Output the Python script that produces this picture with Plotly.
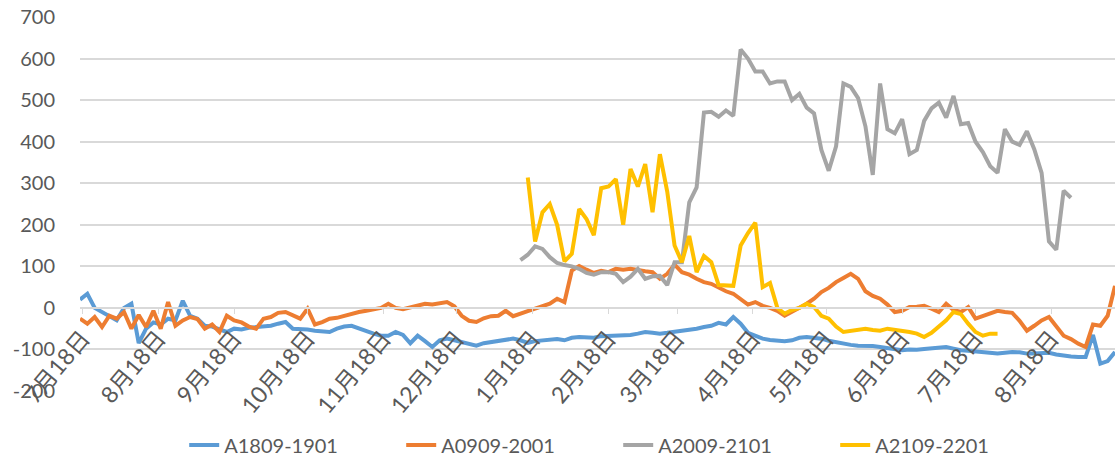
import pandas as pd
import plotly.graph_objects as go

# Trading-calendar grid (every 3 days) used by all four spread series
trade_dates = pd.date_range("2020-07-17", periods=142, freq="3D")

tick_dates = ["2020-07-18", "2020-08-18", "2020-09-18", "2020-10-18", "2020-11-18",
              "2020-12-18", "2021-01-18", "2021-02-18", "2021-03-18", "2021-04-18",
              "2021-05-18", "2021-06-18", "2021-07-18", "2021-08-18"]
tick_labels = ["7月18日", "8月18日", "9月18日", "10月18日", "11月18日", "12月18日",
               "1月18日", "2月18日", "3月18日", "4月18日", "5月18日", "6月18日",
               "7月18日", "8月18日"]

y_ticks = [-200, -100, 0, 100, 200, 300, 400, 500, 600, 700]
y_tick_labels = ["-200", "-100", "0", "100", "200", "300", "400", "500", "600", "700"]

a1809_1901 = [
    20, 34, 0, -10, -20, -30, 0, 10, -85, -50,
    -35, -40, -26, -30, 17, -19, -26, -43, -45, -52,
    -58, -50, -52, -48, -46, -45, -43, -38, -34, -50,
    -50, -52, -55, -56, -58, -50, -45, -43, -50, -55,
    -62, -67, -67, -58, -65, -85, -67, -80, -94, -78,
    -74, -78, -82, -86, -91, -85, -82, -79, -76, -74,
    -78, -84, -80, -79, -76, -75, -78, -72, -70, -71,
    -72, -68, -67, -66, -67, -65, -62, -58, -60, -62,
    -60, -58, -56, -52, -50, -46, -43, -36, -40, -22,
    -38, -60, -68, -74, -77, -79, -80, -78, -72, -70,
    -71, -74, -79, -83, -86, -89, -91, -91, -92, -94,
    -96, -98, -102, -100, -101, -99, -98, -96, -94, -98,
    -102, -103, -105, -106, -108, -110, -108, -106, -107, -110,
    -110, -108, -108, -112, -115, -117, -118, -118, -65, -134,
    -128, -106,
]

a0909_2001 = [
    -26, -38, -22, -46, -19, -26, -10, -50, -17, -46,
    -7, -50, 14, -43, -30, -22, -27, -50, -40, -58,
    -19, -30, -35, -45, -50, -26, -22, -12, -10, -19,
    -26, -2, -40, -34, -26, -24, -19, -15, -10, -7,
    -4, 0, 10, 0, -3, 2, 5, 10, 8, 12,
    14, 4, -19, -31, -34, -25, -20, -19, -7, -20,
    -15, -8, -2, 3, 10, 22, 14, 90, 101, 92,
    84, 89, 86, 94, 92, 94, 90, 88, 86, 70,
    82, 104, 86, 80, 70, 62, 58, 48, 40, 34,
    22, 8, 14, 5, 0, -7, -19, -10, 0, 10,
    22, 38, 48, 62, 72, 82, 70, 40, 29, 22,
    8, -10, -7, 2, 3, 5, -2, -10, 10, -5,
    -10, 2, -26, -19, -12, -7, -10, -12, -31, -55,
    -43, -30, -22, -45, -67, -75, -86, -94, -40, -43,
    -19, 53,
]

a2009_2101 = [None] * 60 + [
    115, 128, 148, 142, 122, 108, 103, 100, 94, 84,
    80, 86, 86, 82, 62, 75, 94, 70, 76, 77,
    55, 110, 110, 254, 290, 470, 472, 460, 475, 462,
    622, 600, 569, 569, 540, 545, 545, 500, 515, 482,
    468, 380, 330, 389, 540, 532, 505, 437, 320, 540,
    430, 420, 454, 370, 380, 450, 480, 494, 458, 510,
    442, 445, 400, 375, 341, 325, 430, 400, 392, 425,
    382, 325, 160, 140, 282, 265,
] + [None] * 6

a2109_2201 = [None] * 61 + [
    314, 160, 230, 250, 200, 112, 130, 238, 214, 175,
    288, 292, 310, 200, 334, 292, 346, 230, 370, 280,
    150, 110, 173, 86, 125, 110, 55, 53, 53, 150,
    180, 205, 50, 60, 0, -14, -5, 0, 10, 2,
    -19, -26, -45, -58, -55, -52, -50, -53, -55, -50,
    -52, -55, -58, -62, -70, -60, -45, -30, -10, -15,
    -38, -58, -67, -62, -62,
] + [None] * 16

series = [
    ("A1809-1901", a1809_1901, "#5B9BD5"),
    ("A0909-2001", a0909_2001, "#ED7D31"),
    ("A2009-2101", a2009_2101, "#A5A5A5"),
    ("A2109-2201", a2109_2201, "#FFC000"),
]

FONT = "Lato, 'Noto Sans CJK SC', sans-serif"
TEXT = "#595959"
GRID = "#D9D9D9"

fig = go.Figure()
for name, values, color in series:
    fig.add_trace(go.Scatter(
        x=trade_dates, y=values, name=name, mode="lines",
        line=dict(color=color, width=4), connectgaps=False,
    ))

y_min, y_max = y_ticks[0], y_ticks[-1]

fig.update_layout(
    width=1120, height=468,
    margin=dict(l=80, r=5, t=17, b=76),
    paper_bgcolor="white", plot_bgcolor="white",
    font=dict(family=FONT, color=TEXT, size=20),
    showlegend=True,
    legend=dict(
        orientation="h", x=0.52, xanchor="center", y=-0.141, yanchor="middle",
        font=dict(size=20, color=TEXT), entrywidth=172, entrywidthmode="pixels",
    ),
    xaxis=dict(
        type="date", range=["2020-07-17", "2021-09-13"],
        tickmode="array", tickvals=tick_dates, ticktext=tick_labels,
        tickangle=-50, anchor="free", position=(0 - y_min) / (y_max - y_min),
        showgrid=False, zeroline=False, showline=True, linecolor=GRID, linewidth=1.5,
        ticks="outside", ticklen=5, tickcolor=GRID, ticklabelstandoff=2,
        tickfont=dict(size=23, color=TEXT),
    ),
    yaxis=dict(
        range=[y_min, y_max], tickmode="array", tickvals=y_ticks, ticktext=y_tick_labels,
        showgrid=True, gridcolor=GRID, gridwidth=1.5, zeroline=False, showline=False,
        ticks="", ticklabelstandoff=24, tickfont=dict(size=20, color=TEXT),
    ),
)

fig.write_html("out.html")
